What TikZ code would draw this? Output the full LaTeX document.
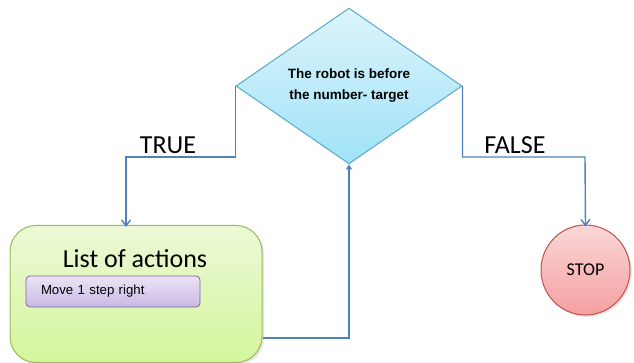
\documentclass[tikz,border=0pt]{standalone}
\usepackage{fontspec}
\setmainfont{Liberation Sans}
\newfontfamily\calfont{Carlito}
\usetikzlibrary{shapes.geometric,arrows.meta,shadows}
\definecolor{conn}{RGB}{79,129,189}
\definecolor{dborder}{RGB}{90,168,200}
\definecolor{dtop}{RGB}{220,245,252}
\definecolor{dbot}{RGB}{160,226,247}
\definecolor{gborder}{RGB}{155,187,89}
\definecolor{gtop}{RGB}{236,249,214}
\definecolor{gbot}{RGB}{212,245,156}
\definecolor{pborder}{RGB}{128,100,162}
\definecolor{ptop}{RGB}{236,228,246}
\definecolor{pbot}{RGB}{200,184,228}
\definecolor{rborder}{RGB}{192,80,77}
\definecolor{rtop}{RGB}{250,215,215}
\definecolor{rbot}{RGB}{244,160,160}
\tikzset{
  conline/.style={draw=conn, line width=1.4pt},
  decision/.style={diamond, draw=dborder, line width=1pt, top color=dtop, bottom color=dbot,
    minimum width=226pt, minimum height=151pt, inner sep=0pt, align=center,
    font=\fontsize{13.5}{21}\selectfont\bfseries},
  actbox/.style={rectangle, rounded corners=26pt, draw=gborder, line width=1pt,
    top color=gtop, bottom color=gbot, minimum width=252pt, minimum height=137pt,
    drop shadow={opacity=0.2, shadow xshift=2pt, shadow yshift=-2pt}},
  stepbox/.style={rectangle, rounded corners=4pt, draw=pborder, line width=0.8pt,
    top color=ptop, bottom color=pbot, minimum width=174pt, minimum height=31pt,
    inner xsep=15pt, text width=144pt, align=left, font=\fontsize{13.2}{16}\selectfont},
  stopnode/.style={ellipse, draw=rborder, line width=1pt, top color=rtop, bottom color=rbot,
    minimum width=89pt, minimum height=90pt, inner sep=0pt, font=\calfont\fontsize{18}{22}\selectfont,
    drop shadow={opacity=0.2, shadow xshift=2pt, shadow yshift=-2pt}},
  bigtext/.style={font=\calfont\fontsize{26}{31}\selectfont, inner sep=0pt},
}
\begin{document}
\begin{tikzpicture}[x=1pt,y=-1pt]
\useasboundingbox (0,0) rectangle (634,363);
\node[decision] (d) at (349,86) {The robot is before\\the number- target};
\node[actbox] (act) at (136,294) {};
\node[bigtext] (lt) at (135,259) {List of actions};
\node[stepbox] (mv) at (113,291.5) {Move 1 step right};
\node[stopnode] (stop) at (585.5,270) {STOP};
\node[bigtext] (tt) at (168,145) {TRUE};
\node[bigtext] (ft) at (515,145) {FALSE};
\coordinate (tl) at (126,157);
\coordinate (fr) at (585,157);
\coordinate (bx) at (349,338);
\draw[conline, -{Straight Barb[length=6pt,width=9pt]}] (d.west) |- (tl) -- ([yshift=-2pt]tl |- act.north);
\draw[conline, -{Straight Barb[length=6pt,width=9pt]}] (d.east) |- (fr) -- ([yshift=-2pt]stop.north);
\draw[conline, -{Triangle[length=5pt,width=6pt]}] (act.east |- bx) -| (d.south);
\end{tikzpicture}
\end{document}
